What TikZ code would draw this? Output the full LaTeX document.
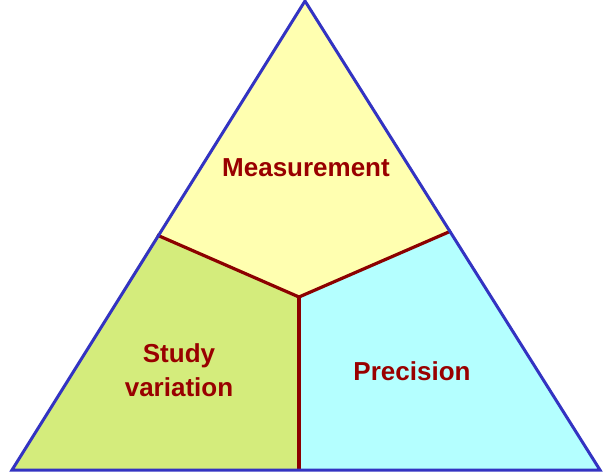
\documentclass[tikz,border=0pt]{standalone}
\usepackage{fontspec}
\setmainfont{Liberation Sans}
\begin{document}
\begin{tikzpicture}[x=1pt,y=-1pt,
  lbl/.style={text=red!60!black,font=\bfseries\fontsize{26}{34}\selectfont,align=center},
  div/.style={draw=red!55!black,line width=3.2pt}]
\definecolor{yel}{HTML}{FFFFB0}
\definecolor{grn}{HTML}{D4EC7C}
\definecolor{cyn}{HTML}{B4FFFF}
\useasboundingbox (0,0) rectangle (610,472);
\coordinate (A) at (305,1);
\coordinate (L) at (12,470);
\coordinate (R) at (600,470);
\coordinate (C) at (299,297);
\coordinate (P) at (157,235);
\coordinate (Q) at (451,231);
\coordinate (B) at (299,470);
\fill[yel] (A) -- (Q) -- (C) -- (P) -- cycle;
\fill[grn] (P) -- (C) -- (B) -- (L) -- cycle;
\fill[cyn] (Q) -- (R) -- (B) -- (C) -- cycle;
\draw[div] (P) -- (C) -- (Q);
\draw[div] (C) -- (B);
\draw[draw=blue!70!black!80,line width=3pt,line join=miter] (A) -- (R) -- (L) -- cycle;
\node[lbl] (m) at (306,168) {Measurement};
\node[lbl] (s) at (179,370) {Study\\variation};
\node[lbl] (p) at (412,371) {Precision};
\end{tikzpicture}
\end{document}
